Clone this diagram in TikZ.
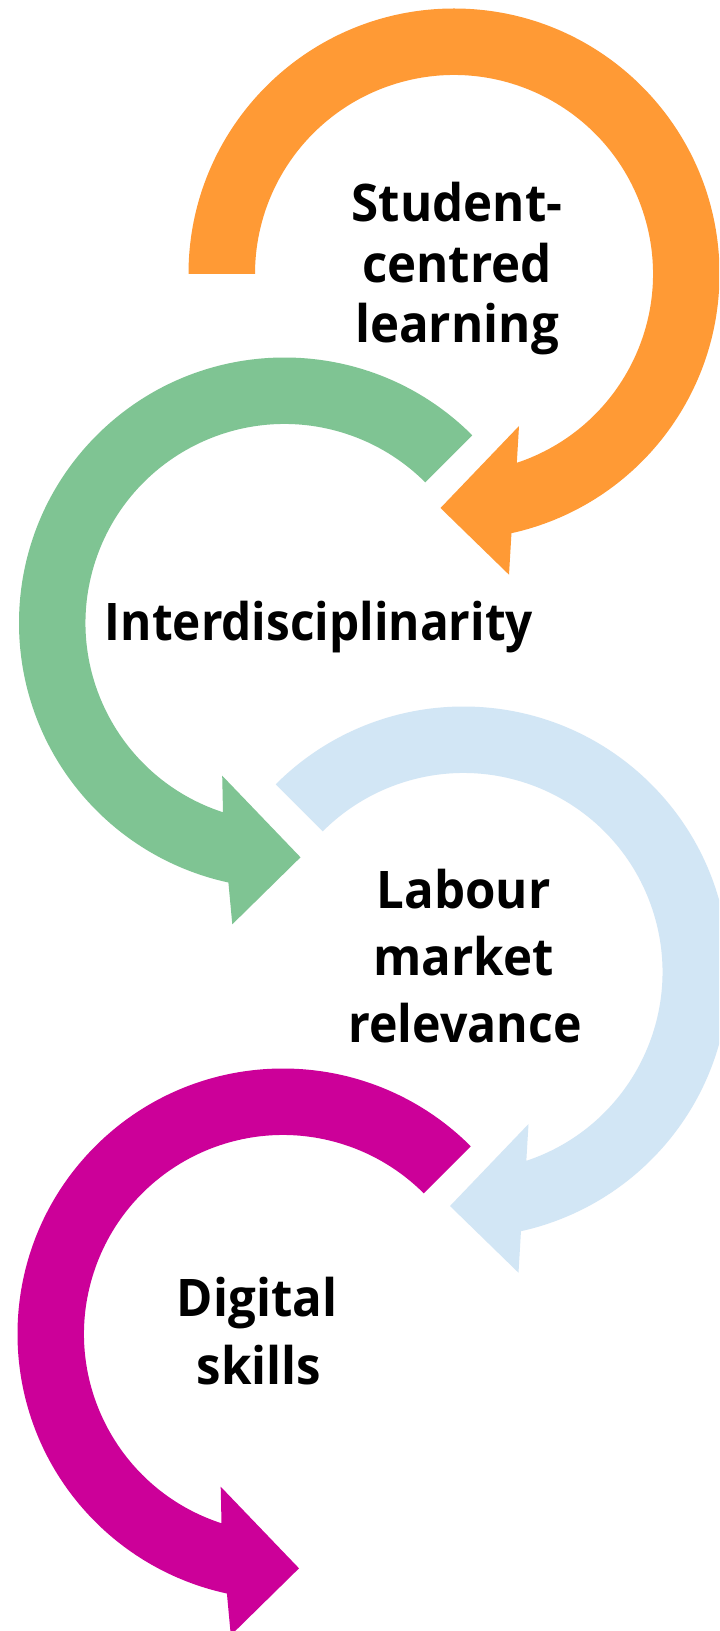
\documentclass[tikz,border=0pt]{standalone}
\usepackage{graphicx}
\usepackage{fontspec}
\setmainfont{Open Sans}[FakeStretch=0.95]
\definecolor{corange}{HTML}{FF9A35}
\definecolor{cgreen}{HTML}{7FC493}
\definecolor{cblue}{HTML}{D2E6F5}
\definecolor{cmagenta}{HTML}{CC0099}
% clockwise circular arrow, head at lower left: #1 cx, #2 cy (pixels, downwards), #3 start angle, #4 colour
\newcommand\CircArrowCW[4]{%
  \begin{scope}[shift={(#1,-#2)}]
    \fill[#4] (#3:265.5) arc[start angle=#3, end angle=-77.5, radius=265.5]
      -- (55,-300.7) -- (-13.5,-234) -- (65,-152)
      -- (-71.6:199) arc[start angle=-71.6, end angle=#3, radius=199] -- cycle;
  \end{scope}}
% counter-clockwise circular arrow, head at lower right
\newcommand\CircArrowCCW[4]{%
  \begin{scope}[shift={(#1,-#2)}]
    \fill[#4] (#3:265.5) arc[start angle=#3, end angle=257.8, radius=265.5]
      -- (-52.2,-301.3) -- (16,-234.3) -- (-62.3,-152.7)
      -- (252:199) arc[start angle=252, end angle=#3, radius=199] -- cycle;
  \end{scope}}
\begin{document}
\begin{tikzpicture}[x=0.5pt,y=0.5pt,
  lbl/.style={anchor=base, inner sep=0pt, text=black,
    font=\bfseries\fontsize{25.9}{30}\selectfont}]
\useasboundingbox (0,0) rectangle (719,-1631);
\clip (0,0) rectangle (719,-1631);
\fill[white] (0,0) rectangle (719,-1631);

\CircArrowCW{454}{274}{180}{corange}
\CircArrowCCW{284.5}{623}{45}{cgreen}
\CircArrowCW{463.5}{972}{135}{cblue}
\CircArrowCCW{283}{1334}{45}{cmagenta}

\node[lbl] (sc1) at (457,-222) {Student-};
\node[lbl] (sc2) at (457,-283) {centred};
\node[lbl] (sc3) at (457,-342.5) {learning};

\node[lbl] (inter) at (319,-640.5) {\scalebox{0.97}[1]{Interdisciplinarity}};

\node[lbl] (lm1) at (463.5,-908.5) {Labour};
\node[lbl] (lm2) at (463.5,-975.5) {market};
\node[lbl] (lm3) at (465,-1042.5) {\scalebox{0.98}[1]{relevance}};

\node[lbl] (ds1) at (257,-1316.5) {Digital};
\node[lbl] (ds2) at (259,-1384) {skills};
\end{tikzpicture}
\end{document}
